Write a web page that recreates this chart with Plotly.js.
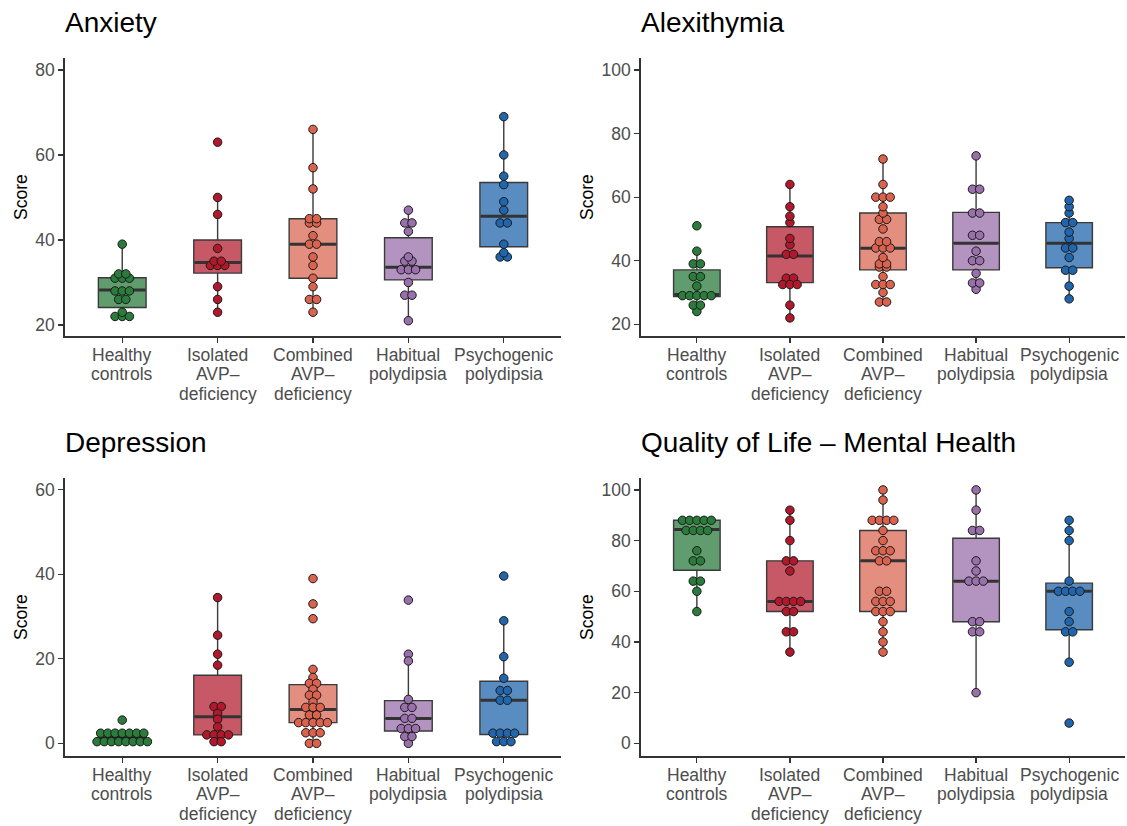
<!DOCTYPE html>
<html>
<head>
<meta charset="utf-8">
<script src="https://cdn.plot.ly/plotly-3.0.1.min.js"></script>
<style>html,body{margin:0;padding:0;background:#fff}#chart{width:1127px;height:826px}</style>
</head>
<body>
<div id="chart"></div>
<script>
// ---------- DATA ----------
const groupLabels = ["Healthy<br>controls", "Isolated<br>AVP–<br>deficiency", "Combined<br>AVP–<br>deficiency", "Habitual<br>polydipsia", "Psychogenic<br>polydipsia"];
const panelTitles = ["Anxiety", "Alexithymia", "Depression", "Quality of Life – Mental Health"];

// Anxiety
const anxHealthy     = [39,32,32,31,31,31,28,28,28,26,26,23,22,22,22];
const anxIsolated    = [63,50,46,38,35,35,34,34,34,29,26,23];
const anxCombined    = [66,57,52,45,45,44,44,41,39,39,36,34,31,29,26,26,23];
const anxHabitual    = [47,44,44,42,36,35,35,33,33,33,30,27,27,21];
const anxPsychogenic = [69,60,55,53,49,47,44,44,39,37,36,36];
const anxQ1  = [24.1,32.2,31,30.6,38.4];
const anxMed = [28.2,34.7,39,33.6,45.6];
const anxQ3  = [31.1,40,45,40.5,53.5];
const anxLo  = [22,23,23,21,36];
const anxHi  = [39,50,66,47,69];
const anxTicks = [20,40,60,80];

// Alexithymia
const alxHealthy     = [51,43,39,39,35,35,32,29,29,29,29,29,26,26,24];
const alxIsolated    = [64,57,54,52,47,45,42,42,34.5,34.5,32.5,32.5,32.5,26,22];
const alxCombined    = [72,64,60,60,60,57,55,53,53,50,46,46,44,44,44,41,39,39,38,38,35,32.5,32.5,32.5,30,27,27];
const alxHabitual    = [73,62.5,62.5,55,55,48,48,43,40,40,36,33,33,31];
const alxPsychogenic = [59,57,55,52,52,49,47,44,44,41,37,37,32,28];
const alxQ1  = [28.7,33.1,37.1,37.1,37.8];
const alxMed = [29.4,41.5,43.9,45.5,45.5];
const alxQ3  = [37.1,50.7,55,55.2,52];
const alxLo  = [24,22,27,31,28];
const alxHi  = [43,64,72,73,59];
const alxTicks = [20,40,60,80,100];

// Depression
const depHealthy     = [5.5,2.4,2.4,2.4,2.4,2.4,2.4,2.4,0.4,0.4,0.4,0.4,0.4,0.4,0.4,0.4];
const depIsolated    = [34.5,25.6,21.1,18.5,8.7,8.7,7.1,5.7,3.9,2,2,2,2,0.4,0.4];
const depCombined    = [39,33,29.5,17.5,15.6,14.2,14.2,12.8,11.4,11.4,9.8,8.5,8.5,8.5,6.7,6.7,4.9,4.9,4.9,4.9,4.9,2.5,2.5,2.5,0,0];
const depHabitual    = [33.9,21.1,19.5,10.4,8.5,8.5,5.9,5.9,3.5,3.5,3.5,1.6,1.6,0];
const depPsychogenic = [39.6,29,20.5,15.4,12.5,12.5,10.2,10.2,2.4,2.4,2.4,2.4,0.4,0.4,0.4];
const depQ1  = [0.4,2.0,4.9,2.9,2.1];
const depMed = [1.4,6.3,8.0,5.9,10.2];
const depQ3  = [2.4,16.1,13.9,10.1,14.7];
const depLo  = [0.4,0.4,0,0,0.4];
const depHi  = [2.4,34.5,17.5,19.5,29];
const depTicks = [0,20,40,60];

// Quality of Life - Mental Health
const qolHealthy     = [88,88,88,88,88,84,84,84,84,76,72,72,64,64,60,52];
const qolIsolated    = [92,88,80,72,72,68,56,56,56,56,52,52,44,44,36];
const qolCombined    = [100,96,88,88,88,88,84,80,76,76,76,72,72,60,60,56,56,56,52,52,52,48,44,40,36];
const qolHabitual    = [100,92,84,84,72,68,64,64,64,48,48,44,44,20];
const qolPsychogenic = [88,84,80,64,60,60,60,60,52,48,44,44,32,8];
const qolQ1  = [68.3,52,52,48,44.8];
const qolMed = [84.4,56,72,64,60];
const qolQ3  = [88,72,84,80.9,63.2];
const qolLo  = [52,36,36,20,32];
const qolHi  = [88,92,100,100,88];
const qolTicks = [0,20,40,60,80,100];

// ---------- STYLE / LAYOUT ----------
const W = 1127, H = 826;
const pointColors = ["#2b7b3c", "#b2182b", "#d9634f", "#9970ab", "#2166ac"];
const fillColors  = ["rgba(43,123,60,0.75)", "rgba(178,24,43,0.72)", "rgba(217,99,79,0.72)", "rgba(153,112,171,0.75)", "rgba(33,102,172,0.75)"];
const FONT = "Liberation Sans, Arial, sans-serif";

const panels = [
  {pts:[anxHealthy,anxIsolated,anxCombined,anxHabitual,anxPsychogenic], q1:anxQ1, med:anxMed, q3:anxQ3, lo:anxLo, hi:anxHi, ticks:anxTicks, yr:[17.4,82.8], px:[65,561], py:[58,336], scoreOff:44},
  {pts:[alxHealthy,alxIsolated,alxCombined,alxHabitual,alxPsychogenic], q1:alxQ1, med:alxMed, q3:alxQ3, lo:alxLo, hi:alxHi, ticks:alxTicks, yr:[16.3,103.8], px:[641,1125], py:[58,336], scoreOff:54},
  {pts:[depHealthy,depIsolated,depCombined,depHabitual,depPsychogenic], q1:depQ1, med:depMed, q3:depQ3, lo:depLo, hi:depHi, ticks:depTicks, yr:[-3.0,62.8], px:[65,561], py:[478,756], scoreOff:44},
  {pts:[qolHealthy,qolIsolated,qolCombined,qolHabitual,qolPsychogenic], q1:qolQ1, med:qolMed, q3:qolQ3, lo:qolLo, hi:qolHi, ticks:qolTicks, yr:[-5.0,104.7], px:[641,1125], py:[478,756], scoreOff:54}
];

const boxTraces = [], medTraces = [], ptTraces = [];
const layout = {
  width: W, height: H, margin: {l:0, r:0, t:0, b:0},
  paper_bgcolor: "#fff", plot_bgcolor: "#fff",
  showlegend: false, boxmode: "overlay",
  font: {family: FONT},
  annotations: []
};

const DOT_PX = 7.2;
const BOX_W = 0.5;
const TICK_FS = 17.5;

panels.forEach((p, pi) => {
  const n = pi + 1;
  const xa = n === 1 ? "x" : "x" + n;
  const ya = n === 1 ? "y" : "y" + n;
  const pxPerUnit = (p.px[1] - p.px[0]) / 5.2;
  const dx = DOT_PX / pxPerUnit;

  for (let g = 0; g < 5; g++) {
    const xc = g + 1;
    boxTraces.push({
      type: "box", xaxis: xa, yaxis: ya,
      x: [xc], q1: [p.q1[g]], median: [p.med[g]], q3: [p.q3[g]],
      lowerfence: [p.lo[g]], upperfence: [p.hi[g]],
      width: BOX_W, whiskerwidth: 0, boxpoints: false,
      fillcolor: fillColors[g], line: {color: "#3a3a3a", width: 1.4},
      hoverinfo: "skip"
    });
    medTraces.push({
      type: "scatter", mode: "lines", xaxis: xa, yaxis: ya,
      x: [xc - BOX_W/2 + 0.01, xc + BOX_W/2 - 0.01], y: [p.med[g], p.med[g]],
      line: {color: "#333", width: 3}, hoverinfo: "skip"
    });
    const counts = {};
    p.pts[g].forEach(v => { counts[v] = (counts[v] || 0) + 1; });
    const xs = [], ys = [];
    Object.keys(counts).forEach(k => {
      const c = counts[k];
      for (let j = 0; j < c; j++) {
        xs.push(xc + (j - (c - 1) / 2) * dx);
        ys.push(parseFloat(k));
      }
    });
    ptTraces.push({
      type: "scatter", mode: "markers", xaxis: xa, yaxis: ya,
      x: xs, y: ys,
      marker: {size: 8.5, color: pointColors[g], line: {color: "#1a1a1a", width: 1}},
      hoverinfo: "skip"
    });

    // category label, one annotation per line (ggplot-like tight line spacing)
    groupLabels[g].split("<br>").forEach((line, li) => {
      layout.annotations.push({
        xref: xa, yref: "paper", x: xc, y: 1 - (p.py[1] + 19 + 19.3 * li) / H,
        xanchor: "center", yanchor: "middle", showarrow: false,
        text: line, font: {family: FONT, size: TICK_FS, color: "#4d4d4d"}
      });
    });
  }

  const axCommon = {
    showline: true, linecolor: "#333", linewidth: 1.8, mirror: false,
    ticks: "outside", ticklen: 5, tickwidth: 1.2, tickcolor: "#333",
    showgrid: false, zeroline: false, fixedrange: true,
    tickfont: {family: FONT, size: TICK_FS, color: "#4d4d4d"}
  };
  layout["xaxis" + (n === 1 ? "" : n)] = Object.assign({}, axCommon, {
    domain: [p.px[0] / W, p.px[1] / W], range: [0.4, 5.6],
    tickmode: "array", tickvals: [1,2,3,4,5], showticklabels: false,
    anchor: ya
  });
  layout["yaxis" + (n === 1 ? "" : n)] = Object.assign({}, axCommon, {
    domain: [1 - p.py[1] / H, 1 - p.py[0] / H], range: p.yr,
    tickmode: "array", tickvals: p.ticks, ticktext: p.ticks.map(String),
    anchor: xa
  });

  layout.annotations.push({
    xref: "paper", yref: "paper", x: p.px[0] / W, xshift: -2, y: 1 - (p.py[0] - 36) / H,
    xanchor: "left", yanchor: "middle", showarrow: false,
    text: panelTitles[pi], font: {family: FONT, size: 28, color: "#000"}
  });
  layout.annotations.push({
    xref: "paper", yref: "paper", x: (p.px[0] - p.scoreOff) / W, y: 1 - ((p.py[0] + p.py[1]) / 2) / H,
    xanchor: "center", yanchor: "middle", showarrow: false, textangle: -90,
    text: "Score", font: {family: FONT, size: 17.5, color: "#000"}
  });
});

Plotly.newPlot("chart", boxTraces.concat(medTraces, ptTraces), layout, {displayModeBar: false, staticPlot: true});
</script>
</body>
</html>
